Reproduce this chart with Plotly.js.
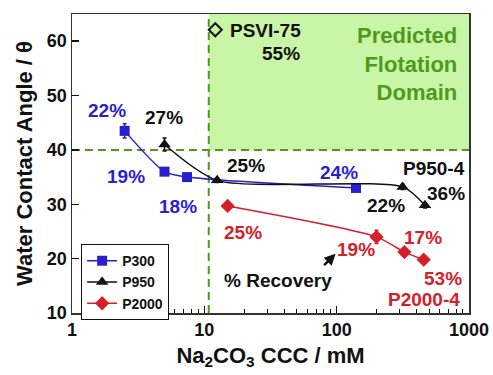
<!DOCTYPE html>
<html><head><meta charset="utf-8">
<script src="https://cdn.plot.ly/plotly-3.0.1.min.js"></script>
<style>html,body{margin:0;padding:0;background:#fff}#chart{width:493px;height:375px}</style>
</head><body><div id="chart"></div>
<script>
// Data
const p300X = [2.5, 5.0, 7.4, 140];
const p300Y = [43.5, 36.0, 35.0, 33.0];
const p300Err = [1.3, 0.4, 0.4, 0.6];
const p950X = [5.0, 12.5, 315, 465];
const p950Y = [41.0, 34.4, 33.2, 29.8];
const p950Err = [1.2, 0.4, 0.5, 0.5];
const p2000X = [15, 200, 325, 455];
const p2000Y = [29.7, 24.0, 21.2, 19.8];
const p2000Err = [0.4, 1.2, 0.6, 0.4];
const psviX = [12.1];
const psviY = [62.1];
const cccThreshold = 10.8;   // mM, vertical dashed line
const angleThreshold = 40;   // degrees, horizontal dashed line
const xTickVals = [1, 10, 100, 1000];
const xTickText = ['1', '10', '100', '1000'];
const yTickVals = [10, 20, 30, 40, 50, 60];

const BLUE = '#2a1fd0', RED = '#d4202a', BLACK = '#111', GREEN = '#4e9a1e';
const FONT = 'Liberation Sans, Arial, sans-serif';

function tr(name, x, y, err, color, symbol, size) {
  return {
    type: 'scatter', mode: 'lines+markers', name: name, x: x, y: y,
    line: {color: color, width: 1.5, shape: 'spline', smoothing: 0.7},
    marker: {color: color, symbol: symbol, size: size},
    error_y: {type: 'data', array: err, visible: true, color: color, thickness: 1.5, width: 2}
  };
}

const data = [
  tr('P300', p300X, p300Y, p300Err, BLUE, 'square', 10),
  tr('P950', p950X, p950Y, p950Err, BLACK, 'triangle-up', 11),
  tr('P2000', p2000X, p2000Y, p2000Err, RED, 'diamond', 11),
  {type: 'scatter', mode: 'markers', x: psviX, y: psviY, showlegend: false,
   marker: {symbol: 'diamond-open', size: 10, color: BLACK, line: {width: 2, color: BLACK}}}
];

function ann(text, xl, y, color, extra) {
  return Object.assign({text: text, x: xl, y: y, xref: 'x', yref: 'y', showarrow: false,
    font: {family: FONT, size: 19, color: color, weight: 'bold'}}, extra || {});
}

const annotations = [
  ann('22%', 0.265, 47.3, BLUE),
  ann('27%', 0.697, 46.0, BLACK),
  ann('19%', 0.409, 35.1, BLUE),
  ann('25%', 1.318, 37.2, BLACK),
  ann('18%', 0.803, 29.6, BLUE),
  ann('24%', 2.02, 35.9, BLUE),
  ann('P950-4', 2.735, 36.6, BLACK),
  ann('36%', 2.826, 32.0, BLACK),
  ann('22%', 2.371, 29.8, BLACK),
  ann('25%', 1.295, 24.8, RED),
  ann('17%', 2.65, 23.9, RED),
  ann('19%', 2.144, 21.7, RED),
  ann('% Recovery', 1.56, 16.0, BLACK),
  ann('53%', 2.803, 16.3, RED),
  ann('P2000-4', 2.66, 12.4, RED),
  ann('PSVI-75', 1.462, 61.9, BLACK),
  ann('55%', 1.576, 57.8, BLACK),
  ann('Predicted<br>Flotation<br>Domain', 2.924, 55.8, GREEN,
      {xanchor: 'right', align: 'right', font: {family: FONT, size: 22, color: GREEN, weight: 'bold'}}),
  {x: 1.992, y: 20.9, xref: 'x', yref: 'y', text: '', showarrow: true, ax: -13, ay: 13,
   arrowhead: 2, arrowsize: 0.9, arrowwidth: 2.5, arrowcolor: BLACK}
];

const shapes = [
  {type: 'rect', xref: 'x', yref: 'y', x0: cccThreshold, x1: 1000, y0: angleThreshold, y1: 65,
   fillcolor: '#c9f5a6', line: {width: 0}, layer: 'below'},
  {type: 'line', xref: 'x', yref: 'y', x0: cccThreshold, x1: cccThreshold, y0: 10, y1: 65,
   line: {color: GREEN, width: 2, dash: '8px,5px'}, layer: 'below'},
  {type: 'line', xref: 'x', yref: 'y', x0: 1, x1: 1000, y0: angleThreshold, y1: angleThreshold,
   line: {color: GREEN, width: 2, dash: '8px,5px'}, layer: 'below'}
];

const tickFont = {family: FONT, size: 18, color: BLACK, weight: 'bold'};
const minorVals = [];
[1, 10, 100].forEach(d => { for (let k = 2; k <= 9; k++) minorVals.push(k * d); });

const layout = {
  width: 493, height: 375,
  margin: {l: 72, r: 24, t: 14, b: 62},
  paper_bgcolor: '#fff', plot_bgcolor: '#fff',
  showlegend: true,
  legend: {x: 0.023, y: 0.23, xanchor: 'left', yanchor: 'top', bordercolor: BLACK, borderwidth: 1,
    bgcolor: '#fff', font: {family: FONT, size: 14, color: BLACK, weight: 'bold'},
    itemwidth: 30, tracegroupgap: 0},
  xaxis: {type: 'log', range: [0, 3], tickvals: xTickVals, ticktext: xTickText,
    ticks: 'inside', ticklen: 7, tickwidth: 1.5, tickcolor: BLACK,
    minor: {tickmode: 'array', tickvals: minorVals, ticks: 'inside', ticklen: 4, tickwidth: 1, tickcolor: BLACK},
    showgrid: false, zeroline: false, showline: true, mirror: true, linecolor: '#333', linewidth: 1.5,
    tickfont: tickFont,
    title: {text: 'Na<sub>2</sub>CO<sub>3</sub> CCC / mM', font: {family: FONT, size: 22, color: BLACK, weight: 'bold'}, standoff: 8}},
  yaxis: {range: [10, 65], tickvals: yTickVals,
    ticks: 'inside', ticklen: 7, tickwidth: 1.5, tickcolor: BLACK,
    showgrid: false, zeroline: false, showline: true, mirror: true, linecolor: '#333', linewidth: 1.5,
    tickfont: tickFont,
    title: {text: 'Water Contact Angle / θ', font: {family: FONT, size: 22, color: BLACK, weight: 'bold'}, standoff: 8}},
  shapes: shapes,
  annotations: annotations
};

Plotly.newPlot('chart', data, layout, {displayModeBar: false, staticPlot: true});
</script></body></html>
